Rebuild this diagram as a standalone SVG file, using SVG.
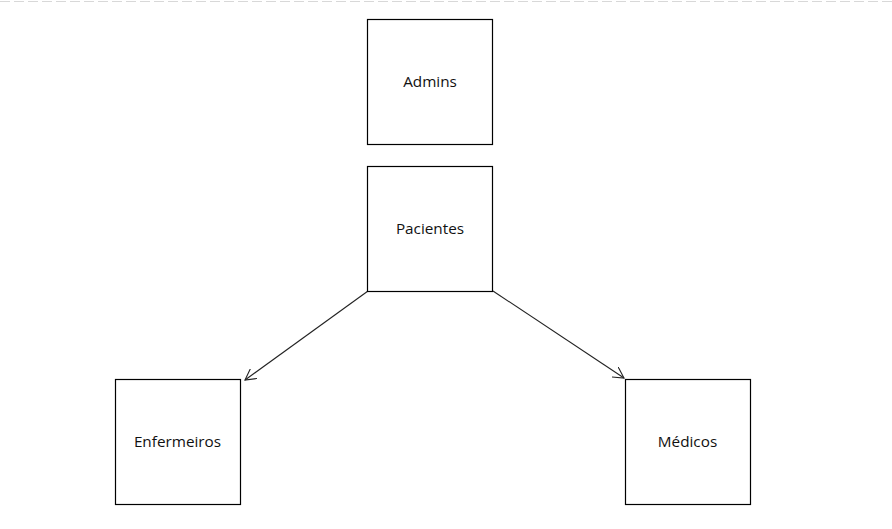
<svg xmlns="http://www.w3.org/2000/svg" width="892" height="529" viewBox="0 0 892 529">
<style>
.box{fill:#fff;stroke:#000;stroke-width:1.2}
.lbl{font-family:"Open Sans","Liberation Sans",sans-serif;font-size:15.3px;fill:#111;text-anchor:middle;dominant-baseline:central}
.edge{stroke:#222;stroke-width:1.1;fill:none;marker-end:url(#arr)}
</style>
<defs>
<marker id="arr" viewBox="0 0 12 12" refX="11" refY="6" markerWidth="12" markerHeight="12" markerUnits="userSpaceOnUse" orient="auto">
<path d="M0,0 L11,6 L0,12" fill="none" stroke="#222" stroke-width="1.1"/>
</marker>
</defs>
<rect width="892" height="529" fill="#fff"/>
<line x1="0" y1="1.5" x2="892" y2="1.5" stroke="#d8d8d8" stroke-width="1" stroke-dasharray="10,4"/>
<g id="connectors">
<line class="edge" x1="368" y1="291" x2="245" y2="380"/>
<line class="edge" x1="493" y1="291" x2="624" y2="378"/>
</g>
<g id="admins"><rect class="box" x="367.5" y="19.5" width="125" height="125"/><text class="lbl" x="430" y="81">Admins</text></g>
<g id="pacientes"><rect class="box" x="367.5" y="166.5" width="125" height="125"/><text class="lbl" x="430" y="228">Pacientes</text></g>
<g id="enfermeiros"><rect class="box" x="115.5" y="379.5" width="125" height="125"/><text class="lbl" x="177.5" y="441">Enfermeiros</text></g>
<g id="medicos"><rect class="box" x="625.5" y="379.5" width="125" height="125"/><text class="lbl" x="687.5" y="441">Médicos</text></g>
</svg>
